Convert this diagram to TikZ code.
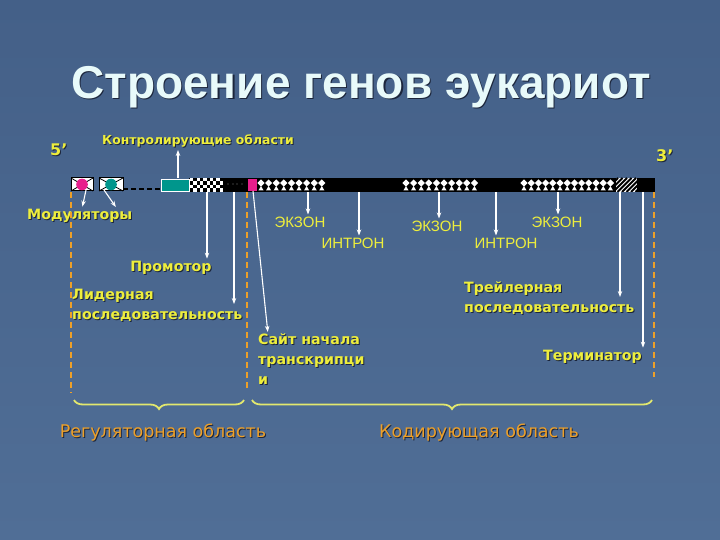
\documentclass[tikz,border=0pt]{standalone}
\usepackage{fontspec}
\setmainfont{DejaVu Sans}
\newfontfamily\fonteArial{Liberation Sans}
\usetikzlibrary{arrows.meta,decorations.pathreplacing}
% cores do slide
\definecolor{fundo}{RGB}{80,110,150}
\definecolor{fundoEscuro}{RGB}{68,96,136}
\definecolor{amarelo}{RGB}{238,238,60}
\definecolor{laranja}{RGB}{238,160,40}
\definecolor{rosa}{RGB}{232,30,140}
\definecolor{verdeAzul}{RGB}{0,150,140}
\definecolor{sombra}{RGB}{28,38,60}
\definecolor{tituloCor}{RGB}{232,250,250}
\definecolor{chave}{RGB}{226,232,110}
% texto com sombra (deslocada)
\newcommand{\sombreado}[2][1pt]{\makebox[0pt][l]{\hspace{#1}\raisebox{-#1}{\color{sombra}#2}}#2}
\begin{document}
\begin{tikzpicture}[x=1pt,y=-1pt]
%============================================================
%  Estilos: setas, linhas tracejadas, rotulos
%============================================================
\tikzset{
    >={Stealth[length=6pt,width=4.5pt]},
    seta/.style={ ->,      % seta branca fina
            white,
            line width=1.1pt,
            shorten >=2pt
        },
    tracejado/.style={ laranja, % limites das regioes
            line width=1.4pt,
            dash pattern=on 6pt off 4pt
        },
    chaveReg/.style={ chave, line width=1.8pt,
            decorate,
            decoration={brace,mirror,amplitude=9pt}
        },
    rotulo/.style={ text=amarelo,
            font=\bfseries\fontsize{14.2}{20}\selectfont,
            inner sep=0pt, align=left
        },
    rotuloFino/.style={ text=amarelo,
            font=\fonteArial\fontsize{15}{18}\selectfont,
            inner sep=0pt
        },
    regiao/.style={ text=laranja,
            font=\fontsize{17.5}{20}\selectfont,
            inner sep=0pt
        },
    titulo/.style={ text=tituloCor,
            font=\fonteArial\bfseries\fontsize{46}{50}\selectfont,
            inner sep=0pt
        },
    losango/.pic={ % exon: losango branco com pe
            \fill[white] (0,-3.6) -- (3.6,0) -- (0,3.6) -- (-3.6,0) -- cycle;
            \fill[white] (-2.6,7.5) -- (2.6,7.5) -- (0,3) -- cycle;
        }
}
% fundo do slide
\useasboundingbox (0,0) rectangle (720,540);
\fill[top color=fundoEscuro,bottom color=fundo] (0,0) rectangle (720,540);
% titulo
\node[titulo] (tit) at (361,88) {\sombreado[1.2pt]{Строение генов эукариот}};
%------------------------------------------------------------
% fita do gene
%------------------------------------------------------------
\fill[black] (189,178) rectangle (655,192);
% caixas dos moduladores
\foreach \xa/\xb/\cor in {71/93/rosa, 99/123/verdeAzul}{
    \fill[white] (\xa,178) rectangle (\xb,191);
    \draw[black,line width=0.8pt] (\xa,178) -- (\xb,191) (\xa,191) -- (\xb,178);
    \draw[black,line width=1pt] (\xa,178) rectangle (\xb,191);
    \fill[\cor] ({(\xa+\xb)/2},184.5) circle (5.8);
}
\draw[black,line width=1.6pt,dash pattern=on 5pt off 3pt] (123,189) -- (161,189);
% promotor
\fill[verdeAzul] (161,179) rectangle (189,191);
\draw[white,line width=0.8pt] (161,179) rectangle (189,191);
% sequencia lider (xadrez)
\foreach \i in {0,...,9}{
    \foreach \j in {0,...,3}{
        \pgfmathtruncatemacro{\paridade}{mod(\i+\j,2)}
        \ifnum\paridade=0 \fill[white] ({190+3.3*\i},{178+3.5*\j}) rectangle ++(3.3,3.5); \fi
    }
}
\foreach \x in {228,233,237,242}{ \fill[gray] (\x,184) circle (0.7); }
% sitio de inicio
\fill[rosa] (248,179) rectangle (257,191);
% exons
\foreach \x in {261,268.6,...,323}{ \pic at (\x,183) {losango}; }
\foreach \x in {406,413.6,...,476}{ \pic at (\x,183) {losango}; }
\foreach \x in {524,531.2,...,611}{ \pic at (\x,183) {losango}; }
% terminador (hachurado)
\fill[white] (616,178) rectangle (637,192);
\begin{scope}
    \clip (616,178) rectangle (637,192);
    \foreach \x in {604,608.5,...,640}{ \draw[black,line width=2pt] (\x,192) -- ({\x+14},178); }
\end{scope}
%------------------------------------------------------------
% pontos de saida das setas
%------------------------------------------------------------
\coordinate (ctrlS) at (178,178);
\coordinate (modA) at (86,190);
\coordinate (modB) at (104,190);
\coordinate (promoS) at (207,192);
\coordinate (liderS) at (234,192);
\coordinate (sitioS) at (253,191);
\coordinate (ex1S) at (308,192);
\coordinate (in1S) at (359,192);
\coordinate (ex2S) at (439,192);
\coordinate (in2S) at (496,192);
\coordinate (ex3S) at (558,192);
\coordinate (trailS) at (620,192);
\coordinate (termS) at (643,192);
%------------------------------------------------------------
% rotulos
%------------------------------------------------------------
\node[rotulo,font=\bfseries\fontsize{16}{20}\selectfont,anchor=west] (cinco) at (50,150) {\sombreado{5’}};
\node[rotulo,font=\bfseries\fontsize{16}{20}\selectfont,anchor=west] (tres) at (656,156) {\sombreado{3’}};
\node[rotulo,font=\bfseries\fontsize{12.4}{16}\selectfont] (ctrl) at (198,141) {\sombreado{Контролирующие области}};
\node[rotulo,anchor=west] (mod) at (27,216) {\sombreado{Модуляторы}};
\node[rotulo] (promotor) at (171,268) {\sombreado{Промотор}};
\node[rotulo,anchor=west] (lider) at (72,306) {\sombreado{Лидерная}\\\sombreado{последовательность}};
\node[rotulo,anchor=west] (sitio) at (258,360) {\sombreado{Сайт начала}\\\sombreado{транскрипци}\\\sombreado{и}};
\node[rotulo,anchor=west] (trail) at (464,299) {\sombreado{Трейлерная}\\\sombreado{последовательность}};
\node[rotulo,anchor=east] (term) at (642,357) {\sombreado{Терминатор}};
\node[rotuloFino] (ex1) at (300,222) {ЭКЗОН};
\node[rotuloFino] (in1) at (353,243) {ИНТРОН};
\node[rotuloFino] (ex2) at (437,226) {ЭКЗОН};
\node[rotuloFino] (in2) at (506,243) {ИНТРОН};
\node[rotuloFino] (ex3) at (557,222) {ЭКЗОН};
%------------------------------------------------------------
% setas
%------------------------------------------------------------
\draw[seta] (ctrlS) -- (ctrlS |- ctrl.south);
\draw[seta] (modA) -- ([xshift=55pt]mod.north west);
\draw[seta] (modB) -- ([xshift=90pt]mod.north west);
\draw[seta] (promoS) -- (promoS |- promotor.north);
\draw[seta] (liderS) -- (liderS |- lider.east);
\draw[seta] (sitioS) -- ([xshift=10pt]sitio.north west);
\draw[seta] (ex1S) -- (ex1S |- ex1.north);
\draw[seta] (in1S) -- (in1S |- in1.north);
\draw[seta] (ex2S) -- (ex2S |- ex2.north);
\draw[seta] (in2S) -- (in2S |- in2.north);
\draw[seta] (ex3S) -- (ex3S |- ex3.north);
\draw[seta] (trailS) -- (trailS |- trail.east);
\draw[seta] (termS) -- (termS |- term.north);
%------------------------------------------------------------
% limites das regioes e chaves
%------------------------------------------------------------
\draw[tracejado] (71,192) -- (71,393);
\draw[tracejado] (247,192) -- (247,389);
\draw[tracejado] (654,192) -- (654,377);
\draw[chaveReg] (74,400) -- (244,400);
\draw[chaveReg] (252,400) -- (652,400);
\node[regiao] (regul) at (163,433) {\sombreado{Регуляторная область}};
\node[regiao] (codif) at (479,433) {\sombreado{Кодирующая область}};
\end{tikzpicture}
\end{document}
